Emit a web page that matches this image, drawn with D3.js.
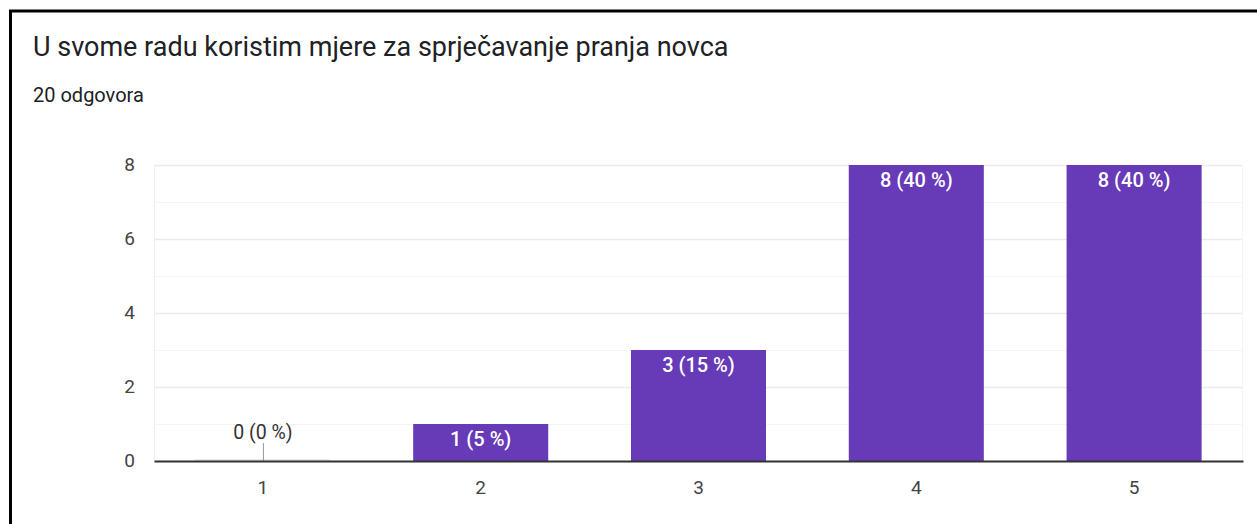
<!DOCTYPE html>
<html>
<head>
<meta charset="utf-8">
<script src="https://cdn.jsdelivr.net/npm/d3@7"></script>
<style>
  body { margin: 0; background: #fff; }
  svg { display: block; font-family: Roboto, Arial, sans-serif; }
</style>
</head>
<body>
<script>
// podaci s grafa
var categories = ["1", "2", "3", "4", "5"];
var counts = [0, 1, 3, 8, 8];
var percents = [0, 5, 15, 40, 40];
var yTicks = [0, 2, 4, 6, 8];
var yMinor = [1, 3, 5, 7];
var title = "U svome radu koristim mjere za sprječavanje pranja novca";
var subtitle = "20 odgovora";

var W = 1257, H = 524;
var margin = {top: 165, right: 14, bottom: 63, left: 154};
var width = W - margin.left - margin.right;
var height = H - margin.top - margin.bottom;
var purple = "#673ab7";

var svg = d3.select("body").append("svg")
    .attr("width", W)
    .attr("height", H);

// okvir (samo lijevo i gore)
svg.append("path")
    .attr("d", "M10.5," + H + " L10.5,11 L" + W + ",11")
    .attr("fill", "none")
    .attr("stroke", "#000")
    .attr("stroke-width", 3);

svg.append("text")
    .attr("x", 33).attr("y", 56)
    .attr("font-size", 27)
    .attr("fill", "#202124")
    .text(title);

svg.append("text")
    .attr("x", 33).attr("y", 102)
    .attr("font-size", 20)
    .attr("fill", "#202124")
    .text(subtitle);

var g = svg.append("g")
    .attr("transform", "translate(" + margin.left + "," + margin.top + ")");

var x = d3.scaleBand().domain(categories).range([0, width]).paddingInner(0.38).paddingOuter(0.19);
var y = d3.scaleLinear().domain([0, 8]).range([height, 0]);

// mreža
g.selectAll(".minor").data(yMinor).enter().append("line")
    .attr("x1", 0).attr("x2", width)
    .attr("y1", function(d) { return y(d) + 0.5; })
    .attr("y2", function(d) { return y(d) + 0.5; })
    .attr("stroke", "#f5f5f5");
g.selectAll(".major").data(yTicks).enter().append("line")
    .attr("x1", 0).attr("x2", width)
    .attr("y1", function(d) { return y(d) + 0.5; })
    .attr("y2", function(d) { return y(d) + 0.5; })
    .attr("stroke", "#ebebeb")
    .attr("stroke-width", 1.5);
g.append("line")
    .attr("x1", 0.5).attr("x2", 0.5).attr("y1", 0).attr("y2", height)
    .attr("stroke", "#f0f0f0");
g.append("line")
    .attr("x1", width - 0.5).attr("x2", width - 0.5).attr("y1", 0).attr("y2", height)
    .attr("stroke", "#f5f5f5");

// y os
var yAxis = g.append("g")
    .call(d3.axisLeft(y).tickValues(yTicks).tickSize(0).tickPadding(19));
yAxis.select(".domain").remove();
yAxis.selectAll("text").attr("font-size", 19).attr("fill", "#444")
    .attr("font-family", "Roboto, Arial, sans-serif").attr("dy", "0.3em");

// stupci
g.selectAll(".bar").data(counts).enter().append("rect")
    .attr("x", function(d, i) { return x(categories[i]); })
    .attr("y", function(d) { return y(d); })
    .attr("width", x.bandwidth())
    .attr("height", function(d) { return height - y(d); })
    .attr("fill", purple);

// nulti stupac - tanka linija
g.selectAll(".zero").data(counts.filter(function(d) { return d === 0; })).enter().append("line")
    .attr("x1", function(d) { return x(categories[counts.indexOf(d)]); })
    .attr("x2", function(d) { return x(categories[counts.indexOf(d)]) + x.bandwidth(); })
    .attr("y1", height - 1).attr("y2", height - 1)
    .attr("stroke", "#d9cdee");

// oznake
counts.forEach(function(d, i) {
  var cx = x(categories[i]) + x.bandwidth() / 2;
  var label = d + " (" + percents[i] + " %)";
  if (d === 0) {
    g.append("line")
      .attr("x1", cx + 0.5).attr("x2", cx + 0.5)
      .attr("y1", height - 18).attr("y2", height)
      .attr("stroke", "#999");
    g.append("text")
      .attr("x", cx).attr("y", height - 22)
      .attr("text-anchor", "middle")
      .attr("font-size", 19.5)
      .attr("fill", "#333")
      .text(label);
  } else {
    g.append("text")
      .attr("x", cx).attr("y", y(d) + 22)
      .attr("text-anchor", "middle")
      .attr("font-size", 20)
      .attr("font-weight", 500)
      .attr("fill", "#fff")
      .text(label);
  }
});

// x os
var xAxis = g.append("g")
    .attr("transform", "translate(0," + height + ")")
    .call(d3.axisBottom(x).tickSize(0).tickPadding(20));
xAxis.select(".domain").attr("stroke", "#333").attr("stroke-width", 2);
xAxis.selectAll("text").attr("font-size", 19).attr("fill", "#444").attr("font-family", "Roboto, Arial, sans-serif");
</script>
</body>
</html>
